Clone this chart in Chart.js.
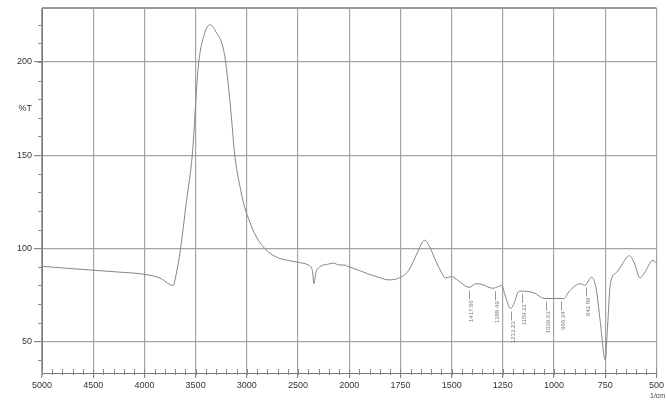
<!DOCTYPE html>
<html>
<head>
<meta charset="utf-8">
<script src="https://cdn.jsdelivr.net/npm/chart.js@4/dist/chart.umd.min.js"></script>
<style>
body{margin:0;background:#fff;}
</style>
</head>
<body>
<canvas id="spec" width="666" height="401"></canvas>
<script>
/* IR spectrum, values */
const waveNums = [5000,4750,4500,4250,4000,3850,3750,3720,3690,3649,3590,3533,3475,3420,3360,3300,3225,3185,3150,3118,3070,3021,2970,2925,2828,2703,2600,2510,2400,2360,2346,2325,2288,2200,2153,2100,2050,2000,
  1950,1917,1860,1806,1758,1710,1670,1632,1600,1579,1550,1531,1500,1492,1460,1415,1380,1350,1299,1270,1255,1240,1212,1190,1178,1160,1097,1048,1000,952,925,870,850,817,795,775,750,740,725,695,670,633,610,580,560,517,500];
const transm = [90.3,89.2,88.2,87.2,86,84,80.5,80,86,99,125,150,197,214,220,216,206,190,170,150,134,122,114,108,100,95,93.5,92.5,91,88,81,87,90,91.5,92,91,91,90,
  88,86.6,84.5,83,84,88,97,104.3,99,93.5,87,84,84.8,84.5,82,79,81,80.5,78.5,79.5,80,75,67.7,72,76,77,76,73,73,73,77,81,80,84.5,78.5,61,40,56,81,87,91,96,92.5,84,86.6,93.5,92];

const xTickWaves = [5000,4500,4000,3500,3000,2500,2000,1750,1500,1250,1000,750,500];
const yTickVals = [50,100,150,200];

// peak marks
const peakWaves = [1415,1288,1212,1159,1040,966,842];
const peakT = [79,78.5,67.7,77,73,73,80.5];
const peakText = ['1417.86','1288.49','1213.23','1159.22','1039.63','966.34','842.89'];

// split axis: 500 per division above 2000, 250 per division below
function toPos(w){ return w >= 2000 ? (5000 - w) / 500 : 6 + (2000 - w) / 250; }
function toWave(u){ return u <= 6 ? 5000 - 500 * u : 2000 - 250 * (u - 6); }

const points = waveNums.map((w, i) => ({x: toPos(w), y: transm[i]}));

const gridCol = '#a3a3a3';

const extras = {
  id: 'extras',
  afterDraw(chart){
    const c = chart.ctx;
    const a = chart.chartArea;
    const xs = chart.scales.x, ys = chart.scales.y;
    c.save();
    // top frame line
    c.strokeStyle = '#9a9a9a';
    c.lineWidth = 2;
    c.beginPath(); c.moveTo(a.left, a.top); c.lineTo(a.right, a.top); c.stroke();
    // minor ticks
    c.strokeStyle = '#888';
    c.lineWidth = 1;
    c.beginPath();
    for (let u = 0; u <= 12.001; u += 0.2) {
      const px = Math.round(xs.getPixelForValue(u)) + 0.5;
      c.moveTo(px, a.bottom - 4); c.lineTo(px, a.bottom + 2);
    }
    for (let v = 40; v <= 220; v += 10) {
      const py = Math.round(ys.getPixelForValue(v)) + 0.5;
      c.moveTo(a.left - 4, py); c.lineTo(a.left, py);
    }
    c.stroke();
    // peak labels
    c.strokeStyle = '#999';
    c.fillStyle = '#777';
    c.font = '6px "Liberation Sans", Arial, sans-serif';
    for (let i = 0; i < peakWaves.length; i++) {
      const px = Math.round(xs.getPixelForValue(toPos(peakWaves[i]))) + 0.5;
      const py = ys.getPixelForValue(peakT[i]);
      c.beginPath(); c.moveTo(px, py + 3); c.lineTo(px, py + 12); c.stroke();
      c.save();
      c.translate(px + 2, py + 13);
      c.rotate(-Math.PI / 2);
      c.textAlign = 'right';
      c.textBaseline = 'middle';
      c.fillText(peakText[i], 0, 0);
      c.restore();
    }
    // unit
    c.fillStyle = '#444';
    c.font = '7px "Liberation Sans", Arial, sans-serif';
    c.textAlign = 'left';
    c.textBaseline = 'middle';
    c.fillText('1/cm', 650, 396);
    c.restore();
  }
};

new Chart(document.getElementById('spec'), {
  type: 'line',
  data: {
    datasets: [{
      data: points,
      borderColor: '#858585',
      borderWidth: 1,
      pointRadius: 0,
      cubicInterpolationMode: 'monotone'
    }]
  },
  options: {
    responsive: false,
    animation: false,
    layout: { autoPadding: false, padding: { top: 8, right: 2, left: 0, bottom: 0 } },
    plugins: { legend: { display: false }, tooltip: { enabled: false } },
    scales: {
      x: {
        type: 'linear',
        min: 0,
        max: 12,
        afterBuildTicks: s => { s.ticks = xTickWaves.map(w => ({value: toPos(w)})); },
        afterFit: s => { s.height = 28; },
        ticks: {
          callback: v => Math.round(toWave(v)),
          color: '#333',
          font: { size: 9, family: '"Liberation Sans", Arial, sans-serif' },
          padding: 2,
          maxRotation: 0,
          autoSkip: false
        },
        grid: { color: gridCol, tickColor: '#888', tickLength: 5, lineWidth: 1.2 },
        border: { color: '#777', width: 1 }
      },
      y: {
        min: 33,
        max: 229,
        afterBuildTicks: s => { s.ticks = [50, 100, 150, 175, 200].map(v => ({value: v})); },
        afterFit: s => { s.width = 42; },
        ticks: {
          callback: v => v === 175 ? '%T' : v,
          color: '#333',
          font: { size: 9, family: '"Liberation Sans", Arial, sans-serif' },
          padding: 2
        },
        grid: {
          color: c => c.tick && c.tick.value === 175 ? 'rgba(0,0,0,0)' : gridCol,
          tickColor: c => c.tick && c.tick.value === 175 ? 'rgba(0,0,0,0)' : '#888',
          tickLength: 8,
          lineWidth: 1.2
        },
        border: { color: '#777', width: 1 }
      }
    }
  },
  plugins: [extras]
});
</script>
</body>
</html>
